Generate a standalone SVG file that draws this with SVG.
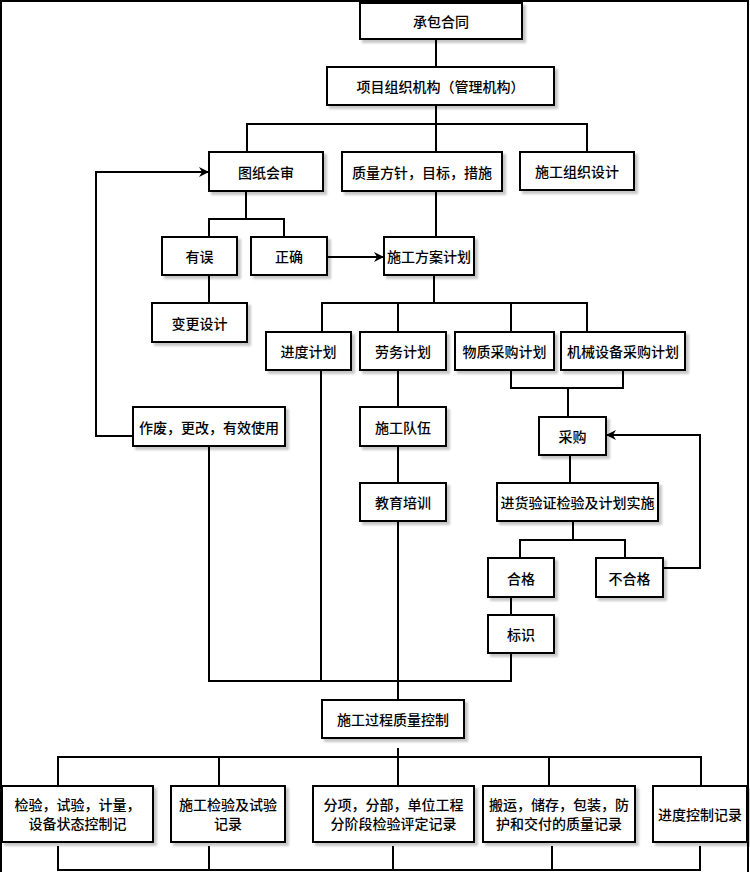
<svg xmlns="http://www.w3.org/2000/svg" width="750" height="872" viewBox="0 0 750 872">
<style>
.box{fill:#fff;stroke:#000;stroke-width:2;filter:url(#sh)}
.lbl{font-family:"Noto Sans CJK SC","Noto Sans",sans-serif;font-size:14px;font-weight:500;text-anchor:middle;dominant-baseline:central;fill:#000}
.ln{fill:none;stroke:#000;stroke-width:2}
.frame{fill:none;stroke:#000;stroke-width:2}
</style>
<defs>
<filter id="sh" x="-10%" y="-10%" width="130%" height="140%">
<feDropShadow dx="3" dy="3" stdDeviation="1" flood-color="#000" flood-opacity="0.22"/>
</filter>
<marker id="arr" viewBox="0 0 10 10" refX="9" refY="5" markerWidth="5" markerHeight="5" orient="auto" markerUnits="strokeWidth">
<path d="M0,0 L10,5 L0,10 L3,5 Z" fill="#000"/>
</marker>
</defs>
<rect x="0" y="0" width="750" height="872" fill="#fff"/>
<path class="frame" d="M1,872 V1 H748 V872"/>
<g id="connectors">
<path class="ln" d="M436,39 V67"/>
<path class="ln" d="M436,105 V152"/>
<path class="ln" d="M247,152 V124 H587 V152"/>
<path class="ln" d="M246,191 V219"/>
<path class="ln" d="M209,237 V219 H284 V237"/>
<path class="ln" d="M327,257 H383" marker-end="url(#arr)"/>
<path class="ln" d="M209,275 V303"/>
<path class="ln" d="M133,436 H96 V172 H208" marker-end="url(#arr)"/>
<path class="ln" d="M436,191 V237"/>
<path class="ln" d="M434,275 V303"/>
<path class="ln" d="M322,332 V303 H587 V332"/>
<path class="ln" d="M398,303 V332"/>
<path class="ln" d="M511,303 V332"/>
<path class="ln" d="M398,370 V407"/>
<path class="ln" d="M398,446 V483"/>
<path class="ln" d="M398,521 V700"/>
<path class="ln" d="M511,370 V388 H623 V370"/>
<path class="ln" d="M568,388 V417"/>
<path class="ln" d="M570,455 V483"/>
<path class="ln" d="M573,521 V540"/>
<path class="ln" d="M520,558 V540 H625 V558"/>
<path class="ln" d="M663,568 H700 V435 H607" marker-end="url(#arr)"/>
<path class="ln" d="M511,597 V615"/>
<path class="ln" d="M511,653 V681 H209 V446"/>
<path class="ln" d="M321,370 V681"/>
<path class="ln" d="M398,748 V786"/>
<path class="ln" d="M58,786 V757 H701 V786"/>
<path class="ln" d="M219,757 V786"/>
<path class="ln" d="M549,757 V786"/>
<path class="ln" d="M58,846 V870 H701"/>
<path class="ln" d="M209,846 V870"/>
<path class="ln" d="M393,846 V870"/>
<path class="ln" d="M552,846 V870"/>
<path class="ln" d="M700,846 V870"/>
</g>
<g id="n1"><rect class="box" x="360" y="3" width="162" height="36"/><text class="lbl" x="441" y="21">承包合同</text></g>
<g id="n2"><rect class="box" x="327" y="67" width="227" height="38"/><text class="lbl" x="440.5" y="86">项目组织机构（管理机构）</text></g>
<g id="n3"><rect class="box" x="209" y="152" width="114" height="39"/><text class="lbl" x="266" y="171.5">图纸会审</text></g>
<g id="n4"><rect class="box" x="342" y="152" width="160" height="39"/><text class="lbl" x="422" y="171.5">质量方针，目标，措施</text></g>
<g id="n5"><rect class="box" x="520" y="152" width="114" height="38"/><text class="lbl" x="577" y="171">施工组织设计</text></g>
<g id="n6"><rect class="box" x="162" y="237" width="75" height="38"/><text class="lbl" x="199.5" y="256">有误</text></g>
<g id="n7"><rect class="box" x="251" y="237" width="76" height="38"/><text class="lbl" x="289" y="256">正确</text></g>
<g id="n8"><rect class="box" x="384" y="237" width="90" height="38"/><text class="lbl" x="429" y="256">施工方案计划</text></g>
<g id="n9"><rect class="box" x="152" y="303" width="95" height="39"/><text class="lbl" x="199.5" y="322.5">变更设计</text></g>
<g id="n10"><rect class="box" x="266" y="332" width="85" height="38"/><text class="lbl" x="308.5" y="351">进度计划</text></g>
<g id="n11"><rect class="box" x="360" y="332" width="86" height="38"/><text class="lbl" x="403" y="351">劳务计划</text></g>
<g id="n12"><rect class="box" x="455" y="332" width="99" height="38"/><text class="lbl" x="504.5" y="351">物质采购计划</text></g>
<g id="n13"><rect class="box" x="561" y="332" width="124" height="38"/><text class="lbl" x="623" y="351">机械设备采购计划</text></g>
<g id="n14"><rect class="box" x="133" y="407" width="152" height="39"/><text class="lbl" x="209" y="426.5">作废，更改，有效使用</text></g>
<g id="n15"><rect class="box" x="360" y="407" width="86" height="39"/><text class="lbl" x="403" y="426.5">施工队伍</text></g>
<g id="n16"><rect class="box" x="539" y="417" width="67" height="38"/><text class="lbl" x="572.5" y="436">采购</text></g>
<g id="n17"><rect class="box" x="360" y="483" width="86" height="38"/><text class="lbl" x="403" y="502">教育培训</text></g>
<g id="n18"><rect class="box" x="497" y="483" width="161" height="38"/><text class="lbl" x="577.5" y="502">进货验证检验及计划实施</text></g>
<g id="n19"><rect class="box" x="488" y="558" width="66" height="39"/><text class="lbl" x="521" y="577.5">合格</text></g>
<g id="n20"><rect class="box" x="596" y="558" width="67" height="39"/><text class="lbl" x="629.5" y="577.5">不合格</text></g>
<g id="n21"><rect class="box" x="488" y="615" width="66" height="38"/><text class="lbl" x="521" y="634">标识</text></g>
<g id="n22"><rect class="box" x="322" y="700" width="142" height="38"/><text class="lbl" x="393" y="719">施工过程质量控制</text></g>
<g id="n23"><rect class="box" x="2" y="786" width="151" height="56"/><text class="lbl" x="77.5" y="804">检验，试验，计量，</text><text class="lbl" x="77.5" y="823">设备状态控制记</text></g>
<g id="n24"><rect class="box" x="171" y="786" width="114" height="56"/><text class="lbl" x="228" y="804">施工检验及试验</text><text class="lbl" x="228" y="823">记录</text></g>
<g id="n25"><rect class="box" x="313" y="786" width="161" height="56"/><text class="lbl" x="393.5" y="804">分项，分部，单位工程</text><text class="lbl" x="393.5" y="823">分阶段检验评定记录</text></g>
<g id="n26"><rect class="box" x="483" y="786" width="152" height="56"/><text class="lbl" x="559" y="804">搬运，储存，包装，防</text><text class="lbl" x="559" y="823">护和交付的质量记录</text></g>
<g id="n27"><rect class="box" x="653" y="786" width="94" height="56"/><text class="lbl" x="700" y="814">进度控制记录</text></g>
</svg>
